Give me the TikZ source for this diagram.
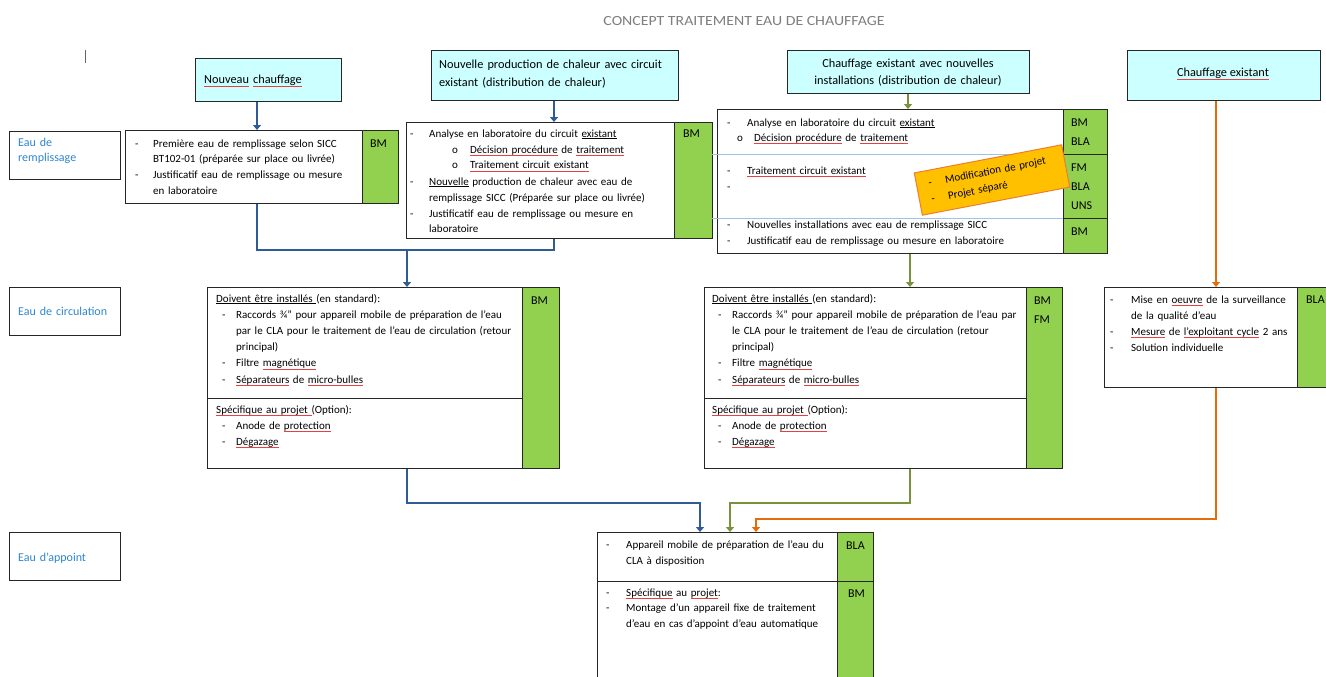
\documentclass[tikz,border=0pt]{standalone}
\usepackage{fontspec}
\setmainfont{Carlito}
\usetikzlibrary{arrows.meta,calc}
\definecolor{cyanbox}{HTML}{CCFFFF}
\definecolor{grn}{HTML}{92D050}
\definecolor{ablue}{HTML}{2F5B96}
\definecolor{agreen}{HTML}{77933C}
\definecolor{aorange}{HTML}{E46C0A}
\definecolor{notefill}{HTML}{FFC000}
\definecolor{noteedge}{HTML}{ED7D31}
\definecolor{lblblue}{HTML}{2E86D0}
\definecolor{sepblue}{HTML}{9DC3E6}
\definecolor{titlegray}{HTML}{7F7F7F}
\definecolor{squig}{HTML}{E84040}
\newsavebox\wbox
\newcommand\rw[1]{\sbox\wbox{#1}\rlap{\textcolor{squig}{\rule[-2.6pt]{\wd\wbox}{0.5pt}}}\usebox\wbox}
\newcommand\uln[1]{\sbox\wbox{#1}\rlap{\rule[-1.7pt]{\wd\wbox}{0.5pt}}\usebox\wbox}
\newcommand\di[2][18pt]{\makebox[#1][l]{-}#2}
\newcommand\dc[2][18pt]{\hspace*{#1}#2}
\newcommand\dd[1]{\hspace*{6pt}\makebox[14pt][l]{-}#1}
\newcommand\ddc[1]{\hspace*{20pt}#1}
\tikzset{
  box/.style={draw=black!85, line width=1pt, fill=white, inner sep=0, anchor=north west},
  topbox/.style={box, fill=cyanbox},
  gcol/.style={box, fill=grn},
  txt/.style={inner sep=0, anchor=base west, text width=#1, align=left, font=\fontsize{11}{15.8}\selectfont},
  gtxt/.style={inner sep=0, anchor=base west, text width=30pt, font=\fontsize{12}{19.5}\selectfont, align=left},
  lbl/.style={inner sep=0, anchor=base west, text width=100pt, align=left, text=lblblue, font=\fontsize{12}{16}\selectfont},
  conn/.style={line width=2.8pt, -{Triangle[width=8pt,length=5pt]}},
  seg/.style={line width=2.8pt},
}
\begin{document}
\begin{tikzpicture}[x=1pt,y=-1pt]
\useasboundingbox (0,0) rectangle (1326,677);
\fill[white] (0,0) rectangle (1326,677);
% title and cursor
\node[anchor=base, inner sep=0, text=titlegray, font=\fontsize{14}{16}\selectfont] (title) at (744,26) {\scalebox{1.13}[1]{CONCEPT TRAITEMENT EAU DE CHAUFFAGE}};
\draw[black!60, line width=0.8pt] (85,50) -- (85,63);

% top boxes
\node[topbox, minimum width=146pt, minimum height=43pt] (A) at (195,58) {};
\node[txt=140pt, font=\fontsize{12.3}{16}\selectfont] (At) at (204,84) {\rw{Nouveau} \rw{chauffage}};
\node[topbox, minimum width=247pt, minimum height=50pt] (B) at (431,50) {};
\node[txt=240pt, font=\fontsize{12.3}{18}\selectfont] (Bt) at (439,69) {Nouvelle production de chaleur avec circuit\\existant (distribution de chaleur)};
\node[topbox, minimum width=242pt, minimum height=43pt] (C) at (787,50) {};
\node[inner sep=0, anchor=base, text width=240pt, align=center, font=\fontsize{12.3}{17}\selectfont] (Ct) at (908,68) {Chauffage existant avec nouvelles\\installations (distribution de chaleur)};
\node[topbox, minimum width=193pt, minimum height=50pt] (D) at (1127,50) {};
\node[inner sep=0, anchor=base, font=\fontsize{12.3}{16}\selectfont] (Dt) at (1223,77) {\rw{Chauffage existant}};

% row labels
\node[box, minimum width=111pt, minimum height=48pt] (L1) at (9,131) {};
\node[lbl] (L1t) at (18,146) {Eau de\\remplissage};
\node[box, minimum width=111pt, minimum height=48pt] (L2) at (9,287) {};
\node[lbl] (L2t) at (18,315) {Eau de circulation};
\node[box, minimum width=111pt, minimum height=48pt] (L3) at (9,532) {};
\node[lbl] (L3t) at (18,561) {Eau d'appoint};

% R1a
\node[box, minimum width=237pt, minimum height=73pt] (R1a) at (125,130) {};
\node[gcol, minimum width=36pt, minimum height=73pt] (R1ag) at (362,130) {};
\node[txt=225pt] (R1at) at (135,147) {\di{Première eau de remplissage selon SICC}\\\dc{BT102-01 (préparée sur place ou livrée)}\\\di{Justificatif eau de remplissage ou mesure}\\\dc{en laboratoire}};
\node[gtxt] (R1agt) at (370,147) {BM};

% R1b
\node[box, minimum width=268pt, minimum height=116pt] (R1b) at (406,122) {};
\node[gcol, minimum width=38pt, minimum height=116pt] (R1bg) at (674,122) {};
\node[txt=262pt, font=\fontsize{11}{16}\selectfont] (R1bt) at (410,137) {\di[19pt]{Analyse en laboratoire du circuit \uln{existant}}\\
\hspace*{42pt}\makebox[18pt][l]{o}\rw{Décision procédure} de \rw{traitement}\\
\hspace*{42pt}\makebox[18pt][l]{o}\rw{Traitement circuit existant}\\
\di[19pt]{\uln{Nouvelle} production de chaleur avec eau de}\\
\dc[19pt]{remplissage SICC (Préparée sur place ou livrée)}\\
\di[19pt]{Justificatif eau de remplissage ou mesure en}\\
\dc[19pt]{laboratoire}};
\node[gtxt] (R1bgt) at (683,137) {BM};

% R1c
\node[box, minimum width=346pt, minimum height=144pt] (R1c) at (717,109) {};
\draw[sepblue, line width=0.6pt] (712,154) -- (1063,154);
\draw[sepblue, line width=0.6pt] (712,218) -- (1063,218);
\node[gcol, minimum width=44pt, minimum height=45pt] (R1cg1) at (1063,109) {};
\node[gcol, minimum width=44pt, minimum height=64pt] (R1cg2) at (1063,154) {};
\node[gcol, minimum width=44pt, minimum height=35pt] (R1cg3) at (1063,218) {};
\node[txt=300pt, font=\fontsize{11}{15}\selectfont] (R1ct1) at (727,126) {\di[20pt]{Analyse en laboratoire du circuit \uln{existant}}\\
\hspace*{10pt}\makebox[17pt][l]{o}\rw{Décision procédure} de \rw{traitement}};
\node[txt=170pt, font=\fontsize{11}{16}\selectfont] (R1ct2) at (727,174) {\di[20pt]{\rw{Traitement circuit existant}}\\-};
\node[txt=300pt, font=\fontsize{11}{16}\selectfont] (R1ct3) at (727,228) {\di[20pt]{Nouvelles installations avec eau de remplissage SICC}\\\di[20pt]{Justificatif eau de remplissage ou mesure en laboratoire}};
\node[gtxt] (R1cgt1) at (1071,126) {BM\\BLA};
\node[gtxt] (R1cgt2) at (1071,171) {FM\\BLA\\UNS};
\node[gtxt] (R1cgt3) at (1071,235) {BM};

% note
\node[draw=noteedge, line width=1pt, fill=notefill, rotate=10.8, minimum width=150pt, minimum height=43pt, text width=126pt, inner xsep=12pt, inner ysep=0pt, align=left, font=\fontsize{11}{16.3}\selectfont] (note) at (992,180) {\makebox[17pt][l]{-}Modification de projet\\\makebox[17pt][l]{-}Projet séparé};

% R2a
\node[box, minimum width=315pt, minimum height=111pt] (R2a1) at (207,287) {};
\node[box, minimum width=315pt, minimum height=70pt] (R2a2) at (207,398) {};
\node[gcol, minimum width=37pt, minimum height=181pt] (R2ag) at (522,287) {};
\node[txt=300pt, font=\fontsize{11}{16.2}\selectfont] (R2at1) at (216,302) {\uln{Doivent être installés }(en standard):\\
\dd{Raccords ¾" pour appareil mobile de préparation de l'eau}\\
\ddc{par le CLA pour le traitement de l'eau de circulation (retour}\\
\ddc{principal)}\\
\dd{Filtre \rw{magnétique}}\\
\dd{\rw{Séparateurs} de \rw{micro-bulles}}};
\node[txt=300pt, font=\fontsize{11}{16}\selectfont] (R2at2) at (216,413) {\rw{Spécifique au projet }(Option):\\
\dd{Anode de \rw{protection}}\\
\dd{\rw{Dégazage}}};
\node[gtxt] (R2agt) at (531,304) {BM};

% R2b
\node[box, minimum width=322pt, minimum height=111pt] (R2b1) at (704,287) {};
\node[box, minimum width=322pt, minimum height=70pt] (R2b2) at (704,398) {};
\node[gcol, minimum width=36pt, minimum height=181pt] (R2bg) at (1026,287) {};
\node[txt=310pt, font=\fontsize{11}{16.2}\selectfont] (R2bt1) at (712,302) {\uln{Doivent être installés }(en standard):\\
\dd{Raccords ¾" pour appareil mobile de préparation de l'eau par}\\
\ddc{le CLA pour le traitement de l'eau de circulation (retour}\\
\ddc{principal)}\\
\dd{Filtre \rw{magnétique}}\\
\dd{\rw{Séparateurs} de \rw{micro-bulles}}};
\node[txt=300pt, font=\fontsize{11}{16}\selectfont] (R2bt2) at (712,413) {\rw{Spécifique au projet }(Option):\\
\dd{Anode de \rw{protection}}\\
\dd{\rw{Dégazage}}};
\node[gtxt] (R2bgt) at (1034,304) {BM\\FM};

% R2c
\node[box, minimum width=193pt, minimum height=100pt] (R2c) at (1104,287) {};
\node[gcol, minimum width=40pt, minimum height=100pt] (R2cg) at (1297,287) {};
\node[txt=185pt, font=\fontsize{11}{16}\selectfont] (R2ct) at (1110,303) {\di[21pt]{Mise en \rw{oeuvre} de la surveillance}\\
\dc[21pt]{de la qualité d'eau}\\
\di[21pt]{\rw{Mesure} de \rw{l'exploitant cycle} 2 ans}\\
\di[21pt]{Solution individuelle}};
\node[gtxt, text width=20pt] (R2cgt) at (1306,303) {BLA};

% R3
\node[box, minimum width=240pt, minimum height=49pt] (R3a) at (597,532) {};
\node[gcol, minimum width=36pt, minimum height=49pt] (R3ag) at (837,532) {};
\node[box, minimum width=240pt, minimum height=110pt] (R3b) at (597,581) {};
\node[gcol, minimum width=36pt, minimum height=110pt] (R3bg) at (837,581) {};
\node[txt=228pt, font=\fontsize{11}{16}\selectfont] (R3at) at (606,548) {\di[20pt]{Appareil mobile de préparation de l’eau du}\\\dc[20pt]{CLA à disposition}};
\node[txt=228pt, font=\fontsize{11}{15.5}\selectfont] (R3bt) at (606,596) {\di[20pt]{\rw{Spécifique} au \rw{projet}:}\\
\di[20pt]{Montage d'un appareil fixe de traitement}\\
\dc[20pt]{d'eau en cas d'appoint d'eau automatique}};
\node[gtxt, text width=24pt] (R3agt) at (846,549) {BLA};
\node[gtxt, text width=24pt] (R3bgt) at (848,597) {BM};

% connector guide coordinates
\coordinate (xa) at (257,0);
\coordinate (xb) at (554,0);
\coordinate (xj) at (407,0);
\coordinate (xc) at (908,0);
\coordinate (xg) at (910,0);
\coordinate (xd) at (1216,0);
\coordinate (xr1) at (700,0);
\coordinate (xr2) at (730,0);
\coordinate (xr3) at (756,0);
\coordinate (yj1) at (0,250);
\coordinate (yj2) at (0,503);
\coordinate (yj3) at (0,519);

% blue
\draw[conn, ablue] (A.south -| xa) -- (R1a.north -| xa);
\draw[conn, ablue] (B.south -| xb) -- (R1b.north -| xb);
\draw[seg, ablue] (R1a.south -| xa) -- (xa |- yj1) -- (xb |- yj1) -- (R1b.south -| xb);
\draw[conn, ablue] (xj |- yj1) -- (R2a1.north -| xj);
\draw[conn, ablue] (R2a2.south -| xj) -- (xj |- yj2) -- (xr1 |- yj2) -- (R3a.north -| xr1);
% green
\draw[conn, agreen] (C.south -| xc) -- (R1c.north -| xc);
\draw[conn, agreen] (R1c.south -| xg) -- (R2b1.north -| xg);
\draw[conn, agreen] (R2b2.south -| xg) -- (xg |- yj2) -- (xr2 |- yj2) -- (R3a.north -| xr2);
% orange
\draw[conn, aorange] (D.south -| xd) -- (R2c.north -| xd);
\draw[conn, aorange] (R2c.south -| xd) -- (xd |- yj3) -- (xr3 |- yj3) -- (R3a.north -| xr3);
\end{tikzpicture}
\end{document}
